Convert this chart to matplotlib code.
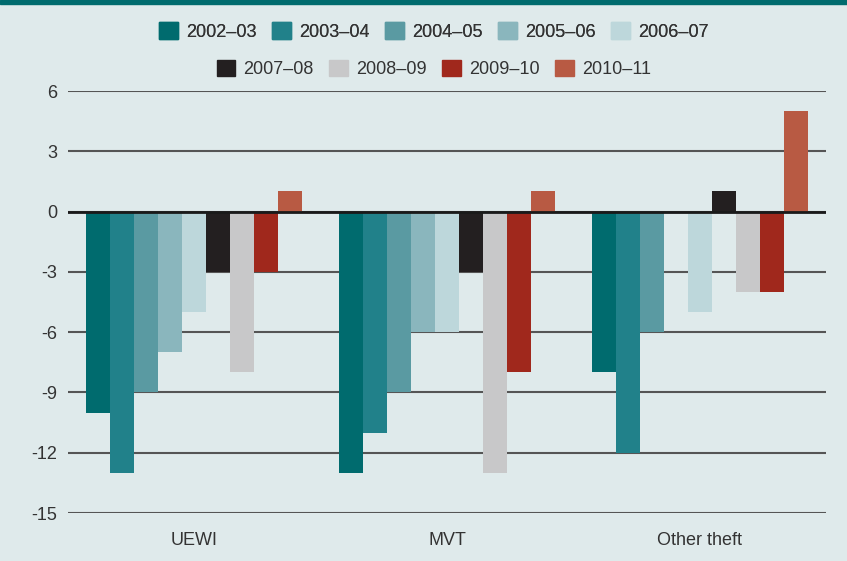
import numpy as np
import matplotlib.pyplot as plt
from matplotlib.patches import Patch

plt.rcParams['font.family'] = ['Liberation Sans', 'DejaVu Sans']

categorias = ["UEWI", "MVT", "Other theft"]
anos = ["2002–03", "2003–04", "2004–05", "2005–06", "2006–07",
        "2007–08", "2008–09", "2009–10", "2010–11"]
valores = [
    [-10, -13, -8],   # 2002-03
    [-13, -11, -12],  # 2003-04
    [-9, -9, -6],     # 2004-05
    [-7, -6, 0],      # 2005-06
    [-5, -6, -5],     # 2006-07
    [-3, -3, 1],      # 2007-08
    [-8, -13, -4],    # 2008-09
    [-3, -8, -4],     # 2009-10
    [1, 1, 5],        # 2010-11
]
cores = ["#006B6E", "#21818A", "#5A9AA2", "#8AB6BD", "#BDD7DB",
         "#231F20", "#C8C8C9", "#A0281C", "#B85A43"]
yticks = [6, 3, 0, -3, -6, -9, -12, -15]

fundo = "#DFEAEB"
fig = plt.figure(figsize=[8.47, 5.61], dpi=100, facecolor=fundo)
ax = fig.add_axes([68/847, 1-513/561, 758/847, 422/561], facecolor=fundo)

x = np.arange(len(categorias))
w = 0.095
for i, (ano, v) in enumerate(zip(anos, valores)):
    pos = x + (i - 4) * w
    ax.bar(pos, v, width=w, color=cores[i], zorder=3, linewidth=0)

ax.set_xlim(-0.5, 2.5)
ax.set_ylim(-15, 6)
ax.set_yticks(yticks)
ax.set_yticklabels([str(t) for t in yticks])
ax.set_xticks(x)
ax.set_xticklabels(categorias)
ax.yaxis.grid(True, color="#555555", linewidth=1.5, zorder=1)
ax.axhline(0, color="#1a1a1a", linewidth=2, zorder=4)
ax.tick_params(axis="both", length=0, labelsize=13, colors="#333333")
ax.tick_params(axis="y", pad=8)
ax.tick_params(axis="x", pad=14)
for s in ax.spines.values():
    s.set_visible(False)

# faixa no topo
fig.patches.append(plt.Rectangle((0, 1-4/561), 1, 4/561, transform=fig.transFigure,
                                 color="#006B6E", zorder=5))

h1 = [Patch(color=cores[i], label=anos[i]) for i in range(5)]
h2 = [Patch(color=cores[i], label=anos[i]) for i in range(5, 9)]
kw = dict(frameon=False, fontsize=13, handlelength=1.05, handleheight=1.05,
          handletextpad=0.45, columnspacing=0.85, labelcolor="#333333",
          borderaxespad=0, borderpad=0)
leg1 = fig.legend(handles=h1, ncol=5, loc="center", bbox_to_anchor=(434/847, 1-31.5/561), **kw)
fig.add_artist(leg1)
fig.legend(handles=h2, ncol=4, loc="center", bbox_to_anchor=(434/847, 1-69/561), **kw)

plt.savefig("out.png", dpi=100, facecolor=fundo)
